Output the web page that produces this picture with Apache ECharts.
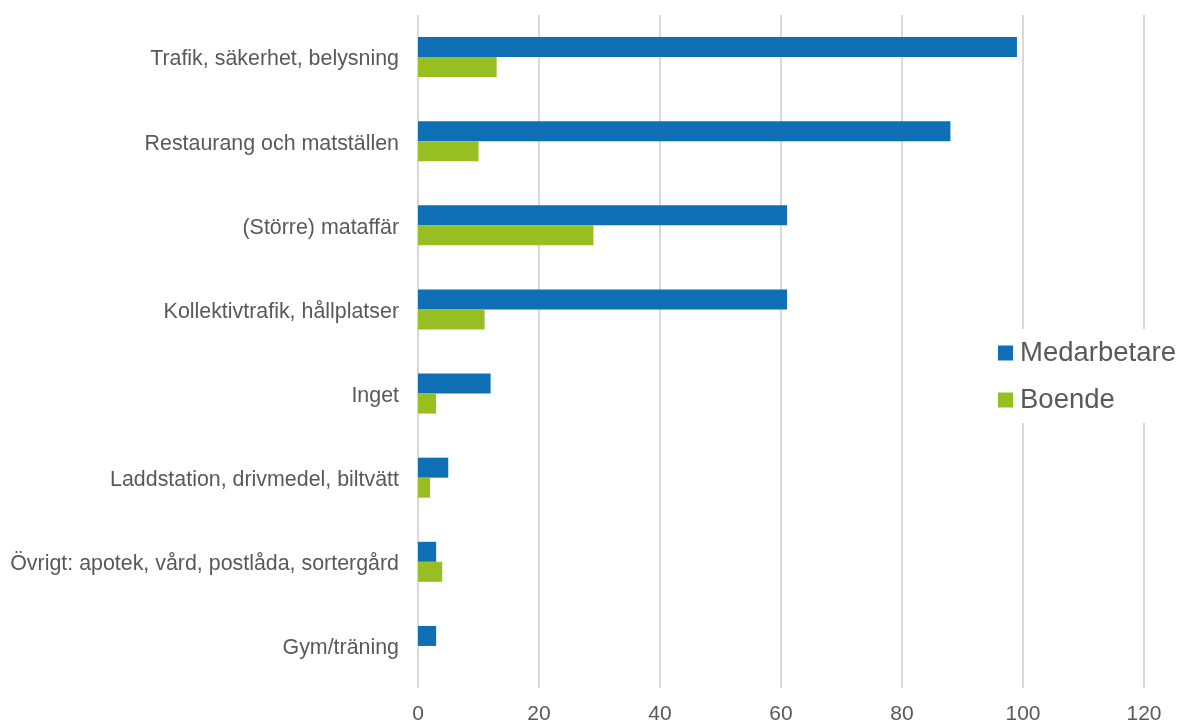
<!DOCTYPE html>
<html>
<head>
<meta charset="utf-8">
<script src="https://cdn.jsdelivr.net/npm/echarts@6/dist/echarts.min.js"></script>
<style>
  html, body { margin: 0; padding: 0; background: #fff; }
  #main { width: 1179px; height: 725px; }
</style>
</head>
<body>
<div id="main"></div>
<script>
var categories = [
  "Trafik, säkerhet, belysning",
  "Restaurang och matställen",
  "(Större) mataffär",
  "Kollektivtrafik, hållplatser",
  "Inget",
  "Laddstation, drivmedel, biltvätt",
  "Övrigt: apotek, vård, postlåda, sortergård",
  "Gym/träning"
];
var medarbetare = [99, 88, 61, 61, 12, 5, 3, 3];
var boende = [13, 10, 29, 11, 3, 2, 4, 0];
var seriesNames = ["Medarbetare", "Boende"];

var chart = echarts.init(document.getElementById("main"));
var font = "Liberation Sans, Arial, sans-serif";
chart.setOption({
  animation: false,
  textStyle: { fontFamily: font },
  grid: { left: 418, right: 35, top: 15, bottom: 35 },
  legend: {
    orient: "vertical",
    left: 993,
    top: 329,
    padding: [10, 4, 9, 5],
    backgroundColor: "#fff",
    itemWidth: 15,
    itemHeight: 15,
    itemGap: 19,
    icon: "rect",
    textStyle: { fontSize: 27.5, color: "#595959", fontFamily: font, padding: [0, 0, 0, 2] },
    data: seriesNames
  },
  xAxis: {
    type: "value",
    min: 0,
    max: 120,
    interval: 20,
    axisLine: { show: false },
    axisTick: { show: false },
    splitLine: { lineStyle: { color: "#d9d9d9", width: 2 } },
    axisLabel: { fontSize: 21, color: "#595959", margin: 16 }
  },
  yAxis: {
    type: "category",
    inverse: true,
    data: categories,
    axisLine: { show: false },
    axisTick: { show: false },
    axisLabel: {
      margin: 19,
      formatter: function (v) { return "{c|" + v + "}"; },
      rich: {
        c: { fontSize: 21.4, color: "#595959", fontFamily: font, padding: [5, 0, 0, 0] }
      }
    }
  },
  series: [
    {
      name: seriesNames[0],
      type: "bar",
      data: medarbetare,
      itemStyle: { color: "#0e6fb4" },
      barWidth: 20,
      barGap: "0%"
    },
    {
      name: seriesNames[1],
      type: "bar",
      data: boende,
      itemStyle: { color: "#97bf22" },
      barWidth: 20,
      barGap: "0%"
    }
  ]
});
</script>
</body>
</html>
